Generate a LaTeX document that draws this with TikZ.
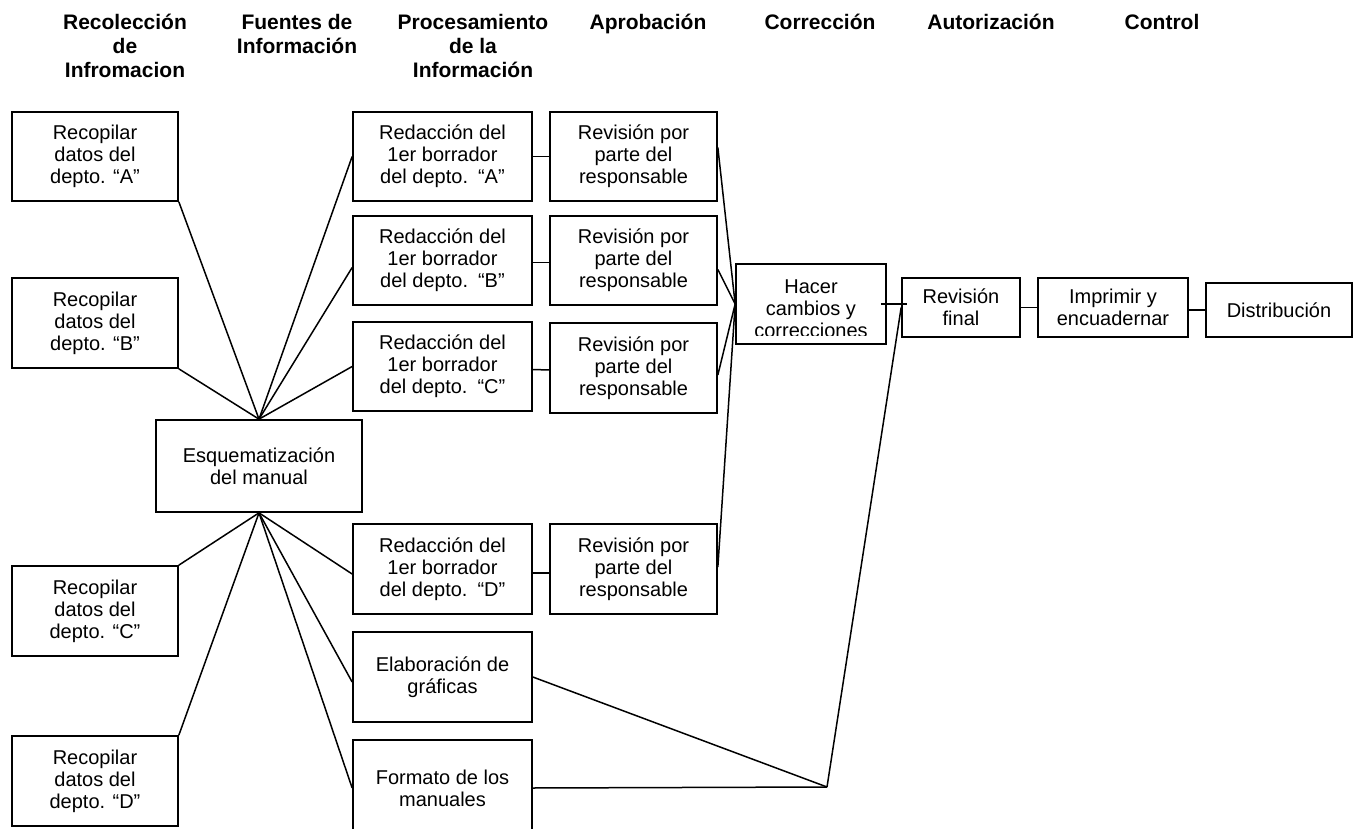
\documentclass[tikz,border=0pt]{standalone}
\usepackage{fontspec}
\setmainfont{Liberation Sans}
\usetikzlibrary{calc}
\begin{document}
\begin{tikzpicture}[x=1pt,y=-1pt,
  box/.style={draw, line width=1.7pt, align=center, inner sep=0pt,
              font=\fontsize{20}{22}\selectfont},
  txt/.style={align=center, inner sep=0pt, font=\fontsize{20}{22}\selectfont},
  hdr/.style={align=center, anchor=north, inner sep=0pt,
              font=\fontsize{21}{24}\selectfont\bfseries},
  link/.style={line width=1.5pt}]
\useasboundingbox (0,0) rectangle (1357,829);
\clip (0,0) rectangle (1357,829);

% column headings
\node[hdr] (h1) at (125,14) {Recolección\\de\\Infromacion};
\node[hdr] (h2) at (297,14) {Fuentes de\\Información};
\node[hdr] (h3) at (473,14) {Procesamiento\\de la\\Información};
\node[hdr] (h4) at (648,14) {Aprobación};
\node[hdr] (h5) at (820,14) {Corrección};
\node[hdr] (h6) at (991,14) {Autorización};
\node[hdr] (h7) at (1162,14) {Control};

% data collection
\node[box, minimum width=166, minimum height=89] (recA) at (95,156.5) {Recopilar\\datos del\\depto. “A”};
\node[box, minimum width=166, minimum height=90] (recB) at (95,323) {Recopilar\\datos del\\depto. “B”};
\node[box, minimum width=166, minimum height=90] (recC) at (95,611) {Recopilar\\datos del\\depto. “C”};
\node[box, minimum width=166, minimum height=90] (recD) at (95,781) {Recopilar\\datos del\\depto. “D”};

% outline of the manual
\node[box, minimum width=206, minimum height=92] (esq) at (259,466) {Esquematización\\del manual};

% drafts
\node[box, minimum width=179, minimum height=89] (redA) at (442.5,156.5) {Redacción del\\1er borrador\\del depto.\hspace{0.5em}“A”};
\node[box, minimum width=179, minimum height=89] (redB) at (442.5,260.5) {Redacción del\\1er borrador\\del depto.\hspace{0.5em}“B”};
\node[box, minimum width=179, minimum height=89] (redC) at (442.5,366.5) {Redacción del\\1er borrador\\del depto.\hspace{0.5em}“C”};
\node[box, minimum width=179, minimum height=90] (redD) at (442.5,569) {Redacción del\\1er borrador\\del depto.\hspace{0.5em}“D”};
\node[box, minimum width=179, minimum height=90] (elab) at (442.5,677) {Elaboración de\\gráficas};
\node[box, minimum width=179, minimum height=96] (form) at (442.5,788) {Formato de los\\manuales};

% reviews
\node[box, minimum width=167, minimum height=89] (revA) at (633.5,156.5) {Revisión por\\parte del\\responsable};
\node[box, minimum width=167, minimum height=89] (revB) at (633.5,260.5) {Revisión por\\parte del\\responsable};
\node[box, minimum width=167, minimum height=90] (revC) at (633.5,368) {Revisión por\\parte del\\responsable};
\node[box, minimum width=167, minimum height=90] (revD) at (633.5,569) {Revisión por\\parte del\\responsable};

% corrections, final review, printing, distribution
\node[box, minimum width=150, minimum height=80] (hacer) at (811,304) {};
\begin{scope}
  \clip (hacer.north west) rectangle ($(hacer.south east)+(0,-9)$);
  \node[txt] (hacertxt) at ($(hacer.center)+(0,5)$) {Hacer\\cambios y\\correcciones};
\end{scope}
\node[box, minimum width=118, minimum height=59] (revf) at (961,307.5) {Revisión\\final};
\node[box, minimum width=150, minimum height=59] (impr) at (1113,307.5) {Imprimir y\\encuadernar};
\node[box, minimum width=146, minimum height=54] (dist) at (1279,310) {Distribución};

% junction points
\coordinate (jtop) at (esq.north);
\coordinate (jbot) at (esq.south);
\coordinate (jrev) at (hacer.west);
\coordinate (jfin) at (827,787);

% fan into the outline
\draw[link] (recA.south east) -- (jtop);
\draw[link] (recB.south east) -- (jtop);
\draw[link] (redA.west) -- (jtop);
\draw[link] ($(redB.west)+(0,7)$) -- (jtop);
\draw[link] (redC.west) -- (jtop);

% fan out of the outline
\draw[link] (jbot) -- (recC.north east);
\draw[link] (jbot) -- (recD.north east);
\draw[link] (jbot) -- ($(redD.west)+(0,5)$);
\draw[link] (jbot) -- ($(elab.west)+(0,5)$);
\draw[link] (jbot) -- (form.west);

% drafts to reviews
\draw[link] (redA.east) -- (revA.west);
\draw[link] ($(redB.east)+(0,2)$) -- ($(revB.west)+(0,2)$);
\draw[link] ($(redC.east)+(0,3)$) -- ($(revC.west)+(0,2)$);
\draw[link] ($(redD.east)+(0,4)$) -- ($(revD.west)+(0,4)$);

% reviews into the corrections
\draw[link] ($(revA.east)+(0,-9)$) -- (jrev);
\draw[link] ($(revB.east)+(0,9)$) -- (jrev);
\draw[link] ($(revC.east)+(0,7)$) -- (jrev);
\draw[link] ($(revD.east)+(0,-2)$) -- (jrev);

% graphics and format to the final review
\draw[link] (elab.east) -- (jfin);
\draw[link] (form.east) -- (jfin);
\draw[link] (jfin) -- (revf.west);

% corrections to final review, then printing and distribution
\draw[link] ($(hacer.east)+(-6,0)$) -- ($(revf.west |- hacer.east)+(6,0)$);
\draw[link] (revf.east) -- (impr.west);
\draw[link] (impr.east |- dist.west) -- (dist.west);
\end{tikzpicture}
\end{document}
